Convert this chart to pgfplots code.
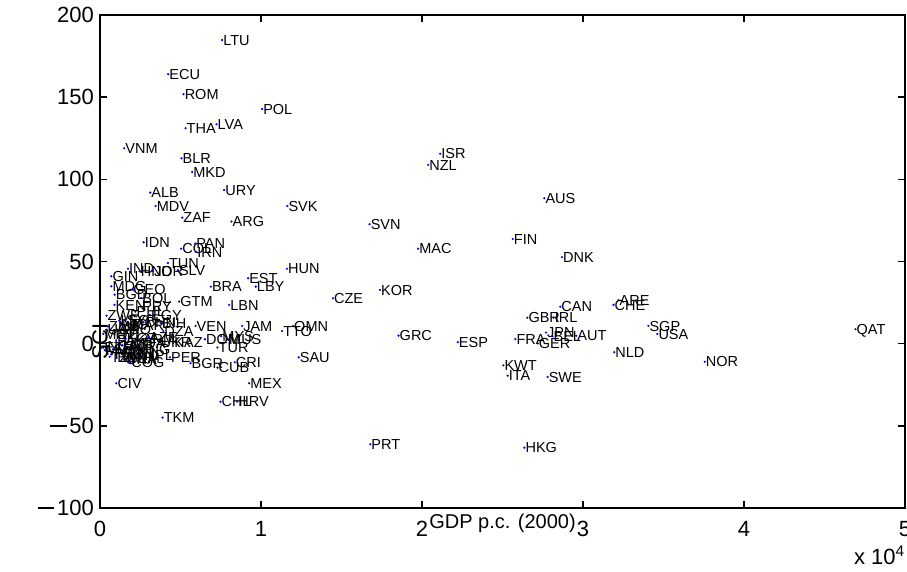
\documentclass[border=0pt]{standalone}
\usepackage{pgfplots}
\pgfplotsset{compat=1.18}
\usepackage{pgfplotstable}
\usepackage{fontspec}
\setmainfont{Liberation Sans}
\newcommand{\lminus}{\rule[0.31em]{0.75em}{0.075em}\hspace{0.12em}}

\pgfplotstableread{
x y name
7585 184.8 LTU
4237 164.0 ECU
5190 151.8 ROM
10068 142.8 POL
5313 131.1 THA
7235 133.5 LVA
1509 118.9 VNM
5065 112.8 BLR
5726 104.5 MKD
3121 91.9 ALB
7711 93.5 URY
3452 83.8 MDV
11638 83.8 SVK
5106 76.7 ZAF
8165 74.3 ARG
21127 115.6 ISR
20384 108.8 NZL
27597 88.5 AUS
16744 72.7 SVN
25634 63.7 FIN
19758 57.8 MAC
28694 52.6 DNK
11616 45.6 HUN
17385 32.7 KOR
14470 27.6 CZE
28589 22.5 CAN
26543 15.8 GBR
28174 15.8 IRL
11990 10.8 OMN
11308 7.7 TTO
18543 4.9 GRC
22222 0.9 ESP
25798 2.8 FRA
27700 6.8 JPN
28100 4.5 BEL
27190 0.2 GER
29580 4.8 AUT
12341 -8.3 SAU
25054 -13.2 KWT
25321 -19.5 ITA
27802 -20.3 SWE
32205 26.6 ARE
31895 23.6 CHE
34060 10.8 SGP
34616 5.9 USA
46925 8.8 QAT
31938 -5.2 NLD
37562 -11.0 NOR
26357 -63.3 HKG
8021 23.6 LBN
4920 25.6 GTM
5933 10.8 VEN
8827 10.8 JAM
6512 2.7 DOM
7530 4.6 MYS
7950 2.5 MUS
7297 -2.3 TUR
4341 -8.3 PER
5624 -11.9 BGR
7297 -14.6 CUB
8372 -11.3 CRI
9261 -24.1 MEX
7483 -35.3 CHL
8517 -35.3 HRV
3886 -45.0 TKM
16786 -61.2 PRT
4548 0.6 KAZ
3700 0.8 UKR
3928 7.7 DZA
3780 12.6 BIH
9200 39.8 EST
9674 34.7 LBY
6884 34.7 BRA
2709 61.7 IDN
5045 57.8 COL
5913 60.9 PAN
5975 55.8 IRN
4217 49.1 TUN
4837 44.7 SLV
1736 45.6 IND
2460 44.1 HND
3286 44.1 JOR
703 41.0 GIN
703 34.9 MDG
909 29.8 BGD
2000 33.0 GEO
2564 27.8 BOL
900 23.6 KEN
2550 22.5 PRY
400 17.0 ZWE
3100 17.5 EGY
2200 19.5 PHL
1600 14.5 SYR
2700 13.0 CHN
1900 11.0 MAR
1300 12.0 NIC
500 10.5 ZMB
1100 8.5 AGO
900 5.5 HTI
1000 2.0 PAK
2600 2.5 ARM
2000 0.5 MDA
3000 4.0 AZE
1400 -1.0 UZB
400 -1.5 NGA
300 -4.0 MWI
800 -3.5 SEN
1300 -5.5 CMR
600 -8.0 TZA
1800 -6.0 MLI
2700 -7.0 NPL
1500 -9.5 GHA
1700 -8.8 YEM
400 8.5 UGA
200 -2.5 ETH
200 6.0 MOZ
700 -6.5 TGO
1000 -8.5 BEN
2200 -3.5 MNG
1600 3.0 KGZ
1200 14.0 LSO
1881 -11.6 COG
1013 -24.1 CIV
}\data

\begin{document}
\begin{tikzpicture}
\useasboundingbox (-100pt,-64pt) rectangle (807pt,508pt);
\begin{axis}[
  scale only axis, width=805pt, height=493pt,
  xmin=0, xmax=50000, ymin=-100, ymax=200,
  xtick={0,10000,20000,30000,40000,50000}, xticklabels={0,1,2,3,4,5},
  scaled x ticks=false,
  ytick={-100,-50,0,50,100,150,200},
  yticklabels={\lminus100,\lminus50,0,50,100,150,200},
  tick align=inside, major tick length=7pt,
  axis line style={line width=1.5pt, black},
  every tick/.style={line width=1.5pt, black},
  tick label style={font=\fontsize{22}{26}\selectfont},
  xticklabel style={anchor=north, inner sep=0pt, yshift=-13pt},
  yticklabel style={anchor=east, inner sep=0pt, xshift=-6pt},
  xlabel={GDP p.c. (2000)}, ylabel={SCI},
  label style={font=\fontsize{20}{24}\selectfont},
  xlabel style={at={(axis description cs:0.5,0)}, anchor=north, inner sep=0pt, yshift=-6pt},
  ylabel style={font=\fontsize{22}{26}\selectfont, at={(axis description cs:0,0.5)}, anchor=center, inner sep=0pt, xshift=-80pt},
  clip=false,
]
\addplot[only marks, mark=*, mark size=0.9pt, draw=blue, fill=blue,
  point meta=explicit symbolic,
  nodes near coords,
  every node near coord/.append style={anchor=west, text=black,
    font=\fontsize{14.5}{17}\selectfont, inner sep=0pt, xshift=1pt,
    text height=10.4pt, text depth=0pt}
] table[x=x, y=y, meta=name] {\data};
\node[anchor=north east, inner sep=0pt, font=\fontsize{22}{26}\selectfont]
  at (rel axis cs:1,0) [yshift=-38pt] {x 10\textsuperscript{4}};
\end{axis}
\end{tikzpicture}
\end{document}
